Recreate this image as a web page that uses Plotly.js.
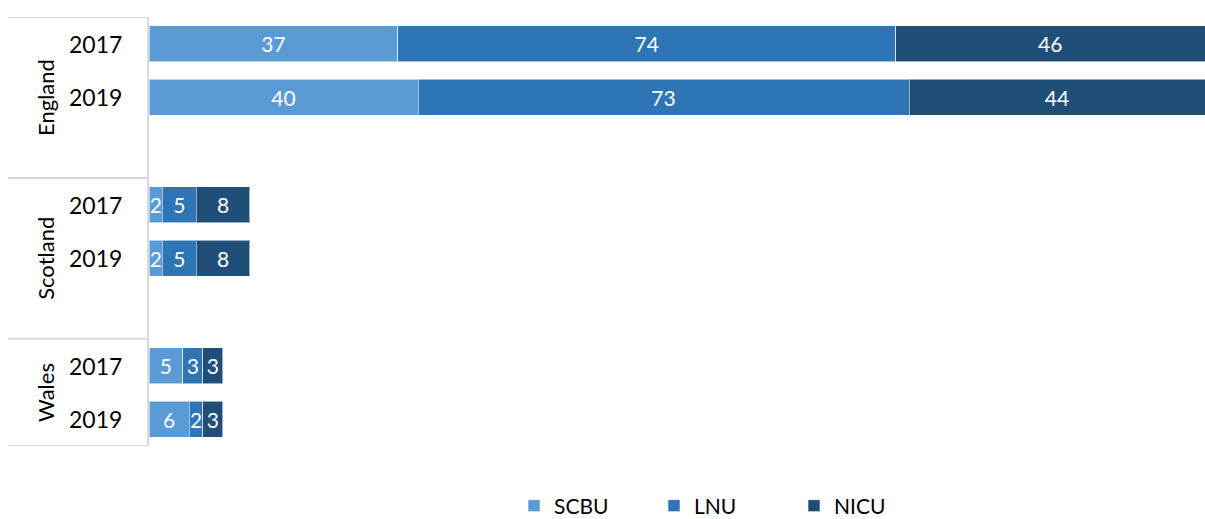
<!DOCTYPE html>
<html>
<head>
<meta charset="utf-8">
<script src="https://cdn.plot.ly/plotly-3.0.1.min.js"></script>
<style>html,body{margin:0;padding:0;background:#fff;}#chart{width:1205px;height:519px;}</style>
</head>
<body>
<div id="chart"></div>
<script>
// Data
const countries = ['England', 'Scotland', 'Wales'];
const years = ['2017', '2019'];
const rowCountry = ['England', 'England', 'Scotland', 'Scotland', 'Wales', 'Wales'];
const rowYear = ['2017', '2019', '2017', '2019', '2017', '2019'];
const scbu = [37, 40, 2, 2, 5, 6];
const lnu = [74, 73, 5, 5, 3, 2];
const nicu = [46, 44, 8, 8, 3, 3];
const seriesNames = ['SCBU', 'LNU', 'NICU'];
const colors = ['#5b9bd5', '#2e75b6', '#1f4e79'];

// Each country gets a block of 3 slots (2 years + spacer)
const slot = (c, y) => countries.indexOf(c) * 3 + years.indexOf(y);
const yPos = rowCountry.map((c, i) => slot(c, rowYear[i]));

const FONT = 'Lato, Carlito, Calibri, sans-serif';
const traces = [scbu, lnu, nicu].map((vals, k) => ({
  type: 'bar',
  orientation: 'h',
  name: seriesNames[k],
  x: vals,
  y: yPos,
  text: vals.map(String),
  textposition: 'inside',
  insidetextanchor: 'middle',
  textfont: {color: '#ffffff', size: 21, family: FONT},
  marker: {color: colors[k], line: {color: 'rgba(255,255,255,0.55)', width: 1}},
  hoverinfo: 'x+name'
}));

const yMin = -0.5;
const yMax = countries.length * 3 - 1.5;
const leftPx = 149;
const plotW = 1205 - leftPx;
const px2paper = p => (p - leftPx) / plotW;

const shapes = [];
// vertical axis line
shapes.push({type: 'line', xref: 'paper', yref: 'y', x0: px2paper(148), x1: px2paper(148), y0: yMin, y1: yMax,
  line: {color: '#d9d9d9', width: 2}});
// horizontal separators
const seps = [yMin];
countries.forEach((c, i) => { seps.push(Math.min(i * 3 + 2.5, yMax)); });
seps.forEach(v => shapes.push({type: 'line', xref: 'paper', yref: 'y',
  x0: px2paper(8), x1: px2paper(148), y0: v, y1: v, line: {color: '#d9d9d9', width: 2}}));

const annotations = [];
rowCountry.forEach((c, i) => {
  annotations.push({xref: 'paper', yref: 'y', x: px2paper(124), y: yPos[i], xanchor: 'right',
    text: rowYear[i], showarrow: false, font: {size: 23, color: '#000', family: FONT}});
});
countries.forEach((c, i) => {
  const top = i * 3 - 0.5;
  const bot = Math.min(i * 3 + 2.5, yMax);
  annotations.push({xref: 'paper', yref: 'y', x: px2paper(30), y: (top + bot) / 2,
    text: c, textangle: -90, showarrow: false, font: {size: 22, color: '#000', family: FONT}});
});

const layout = {
  width: 1205, height: 519,
  margin: {l: leftPx, r: 0, t: 17, b: 73},
  barmode: 'stack',
  bargap: 0.33,
  paper_bgcolor: '#fff', plot_bgcolor: '#fff',
  showlegend: true,
  legend: {orientation: 'h', xref: 'container', yref: 'container',
    x: 514 / 1205, xanchor: 'left', y: 13 / 519, yanchor: 'middle',
    font: {size: 21, color: '#000', family: FONT}, entrywidth: 95, entrywidthmode: 'pixels',
    traceorder: 'normal'},
  uniformtext: {minsize: 21, mode: 'show'},
  xaxis: {range: [0, 157], visible: false, fixedrange: true},
  yaxis: {range: [yMax, yMin], showticklabels: false, showgrid: false, zeroline: false, showline: false, ticks: ''},
  shapes: shapes,
  annotations: annotations
};

Plotly.newPlot('chart', traces, layout, {displayModeBar: false, staticPlot: true});
</script>
</body>
</html>
